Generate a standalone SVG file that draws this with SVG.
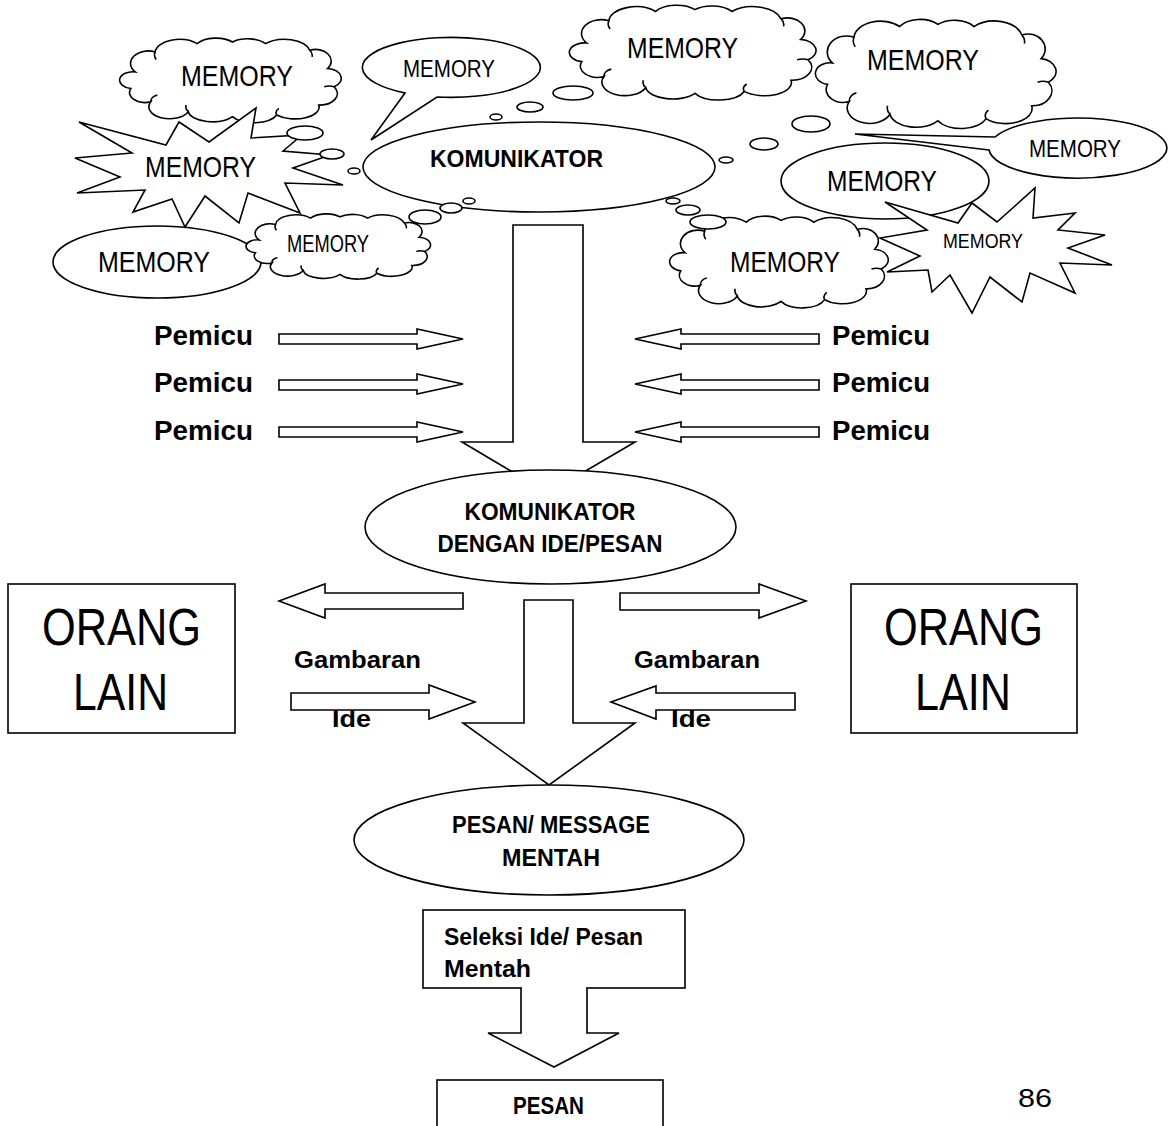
<svg xmlns="http://www.w3.org/2000/svg" xmlns:xlink="http://www.w3.org/1999/xlink" width="1175" height="1126" viewBox="0 0 1175 1126">
<style>
.s{fill:#fff;stroke:#000;stroke-width:1.6;stroke-linejoin:miter}
.n{fill:none;stroke:#000;stroke-width:1.6}
.t{font-family:"Liberation Sans",Arial,sans-serif;fill:#000}
.m{font-size:29px}
.ms{font-size:23px}
.b{font-weight:bold;font-size:24px}
.p{font-weight:bold;font-size:27px}
.o{font-size:52px}
</style>
<defs>
<path id="cloud" vector-effect="non-scaling-stroke" d="M12,42 A16,15 0 0 1 30,18 A22,16 0 0 1 68,8 A20,14 0 0 1 100,6 A20,14 0 0 1 130,8 A24,18 0 0 1 170,16 A14,14 0 0 1 186,38 A14,12 0 0 1 192,60 A16,14 0 0 1 178,82 A22,14 0 0 1 140,94 A22,14 0 0 1 100,96 A22,14 0 0 1 60,90 A18,14 0 0 1 26,78 A14,12 0 0 1 8,62 A12,10 0 0 1 12,42 Z M30,18 A14,12 0 0 0 31,27 M170,16 A10,10 0 0 1 172,24 M192,60 A10,8 0 0 0 183,60 M140,94 A10,8 0 0 1 142,86 M60,90 A12,10 0 0 1 58,82 M26,78 A8,8 0 0 1 32,70"/>
</defs>

<g id="ellipse-memory-left">
<ellipse class="s" cx="157" cy="262" rx="104" ry="36"/>
<text class="t m" x="98" y="272" textLength="112" lengthAdjust="spacingAndGlyphs">MEMORY</text>
</g>
<g id="cloud-top-left">
<use href="#cloud" class="s" transform="translate(122,37) scale(1.105,0.83)"/>
<text class="t m" x="181" y="86" textLength="112" lengthAdjust="spacingAndGlyphs">MEMORY</text>
</g>
<g id="star-left">
<polygon class="s" points="79,122 166,145 179,122 209,142 256,108 251,138 302,135 283,151 330,155 293,168 343,185 285,183 300,213 248,193 239,223 205,196 185,227 172,199 133,212 145,190 77,193 120,177 75,158 132,153"/>
<text class="t m" x="145" y="177" textLength="111" lengthAdjust="spacingAndGlyphs">MEMORY</text>
</g>
<g id="cloud-small-left">
<use href="#cloud" class="s" transform="translate(248,213) scale(0.92,0.64)"/>
<text class="t ms" x="287" y="252" textLength="82" lengthAdjust="spacingAndGlyphs">MEMORY</text>
</g>
<g id="speech-top">
<path class="s" d="M405,93 L371,140 L437,97 A89,30 0 1 0 405,93 Z"/>
<text class="t ms" x="403" y="77" textLength="92" lengthAdjust="spacingAndGlyphs">MEMORY</text>
</g>
<g id="cloud-top-middle">
<use href="#cloud" class="s" transform="translate(572,4) scale(1.23,0.93)"/>
<text class="t m" x="627" y="58" textLength="111" lengthAdjust="spacingAndGlyphs">MEMORY</text>
</g>
<g id="cloud-top-right">
<use href="#cloud" class="s" transform="translate(818,18) scale(1.2,1.07)"/>
<text class="t m" x="867" y="70" textLength="112" lengthAdjust="spacingAndGlyphs">MEMORY</text>
</g>
<g id="ellipse-memory-right">
<ellipse class="s" cx="885" cy="181" rx="104" ry="38"/>
<text class="t m" x="827" y="191" textLength="110" lengthAdjust="spacingAndGlyphs">MEMORY</text>
</g>
<g id="speech-right">
<path class="s" d="M989,150 L855,134 L995,137 A89,30 0 1 1 989,150 Z"/>
<text class="t ms" x="1029" y="157" textLength="92" lengthAdjust="spacingAndGlyphs">MEMORY</text>
</g>
<g id="cloud-bottom-right">
<use href="#cloud" class="s" transform="translate(672,215) scale(1.09,0.9)"/>
<text class="t m" x="730" y="272" textLength="110" lengthAdjust="spacingAndGlyphs">MEMORY</text>
</g>
<g id="star-right">
<polygon class="s" points="885,202 958,223 972,203 997,222 1035,188 1033,218 1075,213 1058,230 1105,235 1068,248 1112,265 1060,263 1075,293 1030,273 1022,302 990,277 972,313 950,275 932,292 928,270 887,272 920,256 880,238 927,230"/>
<text class="t" style="font-size:21px" x="943" y="248" textLength="80" lengthAdjust="spacingAndGlyphs">MEMORY</text>
</g>

<g id="komunikator">
<ellipse class="s" cx="539" cy="167" rx="176" ry="45"/>
<text class="t b" x="430" y="167" textLength="173" lengthAdjust="spacingAndGlyphs">KOMUNIKATOR</text>
</g>

<g id="thought-bubbles">
<ellipse class="s" cx="305" cy="133" rx="18" ry="7"/>
<ellipse class="s" cx="332" cy="154" rx="12" ry="5"/>
<ellipse class="s" cx="354" cy="171" rx="6" ry="3"/>
<ellipse class="s" cx="496" cy="117" rx="6" ry="3"/>
<ellipse class="s" cx="530" cy="107" rx="13" ry="5"/>
<ellipse class="s" cx="573" cy="93" rx="20" ry="7"/>
<ellipse class="s" cx="726" cy="160" rx="7" ry="3"/>
<ellipse class="s" cx="764" cy="144" rx="14" ry="6"/>
<ellipse class="s" cx="811" cy="124" rx="19" ry="8"/>
<ellipse class="s" cx="469" cy="201" rx="6" ry="3"/>
<ellipse class="s" cx="451" cy="208" rx="11" ry="5"/>
<ellipse class="s" cx="425" cy="217" rx="16" ry="7"/>
<ellipse class="s" cx="673" cy="201" rx="7" ry="3"/>
<ellipse class="s" cx="688" cy="210" rx="12" ry="5"/>
<ellipse class="s" cx="708" cy="222" rx="18" ry="7"/>
</g>

<g id="pemicu-labels">
<text class="t p" x="154" y="345" textLength="99" lengthAdjust="spacingAndGlyphs">Pemicu</text>
<text class="t p" x="154" y="392" textLength="99" lengthAdjust="spacingAndGlyphs">Pemicu</text>
<text class="t p" x="154" y="440" textLength="99" lengthAdjust="spacingAndGlyphs">Pemicu</text>
<text class="t p" x="832" y="345" textLength="98" lengthAdjust="spacingAndGlyphs">Pemicu</text>
<text class="t p" x="832" y="392" textLength="98" lengthAdjust="spacingAndGlyphs">Pemicu</text>
<text class="t p" x="832" y="440" textLength="98" lengthAdjust="spacingAndGlyphs">Pemicu</text>
</g>

<g id="gambaran-labels">
<text class="t b" x="294" y="668" textLength="127" lengthAdjust="spacingAndGlyphs">Gambaran</text>
<text class="t b" x="332" y="727" textLength="39" lengthAdjust="spacingAndGlyphs">Ide</text>
<text class="t b" x="634" y="668" textLength="126" lengthAdjust="spacingAndGlyphs">Gambaran</text>
<text class="t b" x="671" y="727" textLength="40" lengthAdjust="spacingAndGlyphs">Ide</text>
</g>

<g id="connectors">
<path class="s" d="M279,334 H417 V329 L463,339 L417,349 V344 H279 Z"/>
<path class="s" d="M279,380 H417 V374 L463,384 L417,394 V390 H279 Z"/>
<path class="s" d="M279,427 H417 V422 L463,432 L417,442 V437 H279 Z"/>
<path class="s" d="M819,334 H681 V329 L635,339 L681,349 V344 H819 Z"/>
<path class="s" d="M819,380 H681 V374 L635,384 L681,394 V390 H819 Z"/>
<path class="s" d="M819,427 H681 V422 L635,432 L681,442 V437 H819 Z"/>
<path class="s" d="M513,225 H583 V442 H635 L548,493 L462,442 H513 Z"/>
<path class="s" d="M463,593 H325 V584 L279,601 L325,618 V609 H463 Z"/>
<path class="s" d="M620,593 H759 V584 L806,601 L759,618 V610 H620 Z"/>
<path class="s" d="M524,600 H573 V723 H635 L549,785 L463,723 H524 Z"/>
<path class="s" d="M291,693 H429 V685 L475,702 L429,719 V710 H291 Z"/>
<path class="s" d="M795,693 H656 V686 L611,702 L656,719 V710 H795 Z"/>
</g>

<g id="komunikator-ide">
<ellipse class="s" cx="550.5" cy="527" rx="185.5" ry="57"/>
<text class="t b" x="550" y="520" text-anchor="middle" textLength="171" lengthAdjust="spacingAndGlyphs">KOMUNIKATOR</text>
<text class="t b" x="550" y="552" text-anchor="middle" textLength="225" lengthAdjust="spacingAndGlyphs">DENGAN IDE/PESAN</text>
</g>

<g id="orang-lain-left">
<rect class="s" x="8" y="584" width="227" height="149"/>
<text class="t o" x="42" y="645" textLength="159" lengthAdjust="spacingAndGlyphs">ORANG</text>
<text class="t o" x="73" y="710" textLength="95" lengthAdjust="spacingAndGlyphs">LAIN</text>
</g>
<g id="orang-lain-right">
<rect class="s" x="851" y="584" width="226" height="149"/>
<text class="t o" x="884" y="645" textLength="159" lengthAdjust="spacingAndGlyphs">ORANG</text>
<text class="t o" x="915" y="710" textLength="96" lengthAdjust="spacingAndGlyphs">LAIN</text>
</g>

<g id="pesan-mentah">
<ellipse class="s" cx="549" cy="840" rx="195" ry="55"/>
<text class="t b" x="452" y="833" textLength="198" lengthAdjust="spacingAndGlyphs">PESAN/ MESSAGE</text>
<text class="t b" x="502" y="866" textLength="98" lengthAdjust="spacingAndGlyphs">MENTAH</text>
</g>

<g id="seleksi">
<rect class="s" x="423" y="910" width="262" height="78"/>
<text class="t b" x="444" y="945" textLength="199" lengthAdjust="spacingAndGlyphs">Seleksi Ide/ Pesan</text>
<text class="t b" x="444" y="977" textLength="87" lengthAdjust="spacingAndGlyphs">Mentah</text>
<rect x="522" y="986" width="64" height="4" fill="#fff"/>
<path class="s" d="M521,988 V1033 H488 L554,1067 L619,1033 H587 V988"/>
</g>

<g id="pesan">
<rect class="s" x="437" y="1080" width="226" height="60"/>
<text class="t b" x="513" y="1114" textLength="71" lengthAdjust="spacingAndGlyphs">PESAN</text>
</g>

<text class="t" style="font-size:25px" x="1018" y="1107" textLength="34" lengthAdjust="spacingAndGlyphs">86</text>
</svg>
